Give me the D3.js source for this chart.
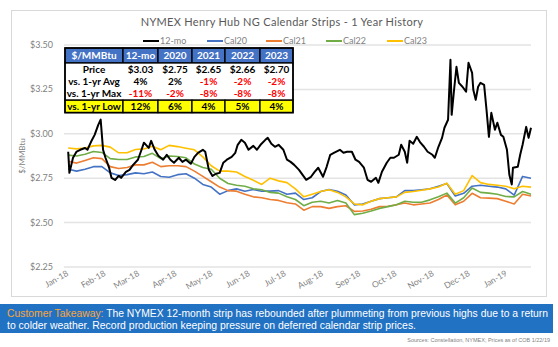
<!DOCTYPE html>
<html><head><meta charset="utf-8">
<script src="https://cdn.jsdelivr.net/npm/d3@7"></script>
<style>body{margin:0;background:#fff;} svg{display:block;}</style>
</head><body><svg id="c" width="558" height="347"></svg>
<script>
// ---------- DATA ----------
const weekDates = ["2018-01-02","2018-01-09","2018-01-16","2018-01-23","2018-01-30",
 "2018-02-06","2018-02-13","2018-02-20","2018-02-27","2018-03-06","2018-03-13","2018-03-20","2018-03-27",
 "2018-04-03","2018-04-10","2018-04-17","2018-04-24","2018-05-01","2018-05-08","2018-05-15","2018-05-22","2018-05-29",
 "2018-06-05","2018-06-12","2018-06-19","2018-06-26","2018-07-03","2018-07-10","2018-07-17","2018-07-24","2018-07-31",
 "2018-08-07","2018-08-14","2018-08-21","2018-08-28","2018-09-04","2018-09-11","2018-09-18","2018-09-25",
 "2018-10-02","2018-10-09","2018-10-16","2018-10-23","2018-10-30","2018-11-06","2018-11-13","2018-11-20","2018-11-27",
 "2018-12-04","2018-12-11","2018-12-18","2018-12-25","2019-01-01","2019-01-08","2019-01-15","2019-01-22"];
const cal20 = [2.80,2.79,2.80,2.815,2.815,2.78,2.765,2.77,2.78,2.775,2.785,2.76,2.755,2.77,2.775,2.75,2.715,2.70,2.66,2.68,2.69,2.677,
 2.686,2.677,2.677,2.68,2.66,2.666,2.63,2.64,2.675,2.686,2.677,2.655,2.60,2.605,2.62,2.635,2.64,2.645,2.68,2.68,2.685,2.69,
 2.705,2.72,2.65,2.665,2.705,2.71,2.705,2.70,2.69,2.655,2.76,2.75];
const cal21 = [2.845,2.835,2.85,2.865,2.86,2.815,2.805,2.81,2.825,2.825,2.84,2.815,2.82,2.82,2.815,2.79,2.76,2.73,2.70,2.68,2.677,2.66,
 2.645,2.64,2.63,2.625,2.612,2.605,2.57,2.59,2.59,2.58,2.59,2.595,2.563,2.565,2.575,2.59,2.592,2.60,2.61,2.60,2.605,2.61,
 2.63,2.655,2.60,2.62,2.665,2.64,2.638,2.635,2.62,2.605,2.66,2.65];
const cal22 = [2.88,2.875,2.885,2.90,2.895,2.86,2.855,2.855,2.87,2.872,2.89,2.86,2.875,2.872,2.865,2.83,2.81,2.80,2.75,2.72,2.71,2.705,
 2.69,2.685,2.67,2.666,2.645,2.63,2.595,2.615,2.62,2.61,2.625,2.61,2.545,2.553,2.565,2.58,2.59,2.60,2.62,2.615,2.615,2.628,
 2.645,2.666,2.61,2.64,2.695,2.67,2.666,2.66,2.647,2.645,2.675,2.66];
const cal23 = [2.92,2.915,2.92,2.932,2.935,2.925,2.893,2.893,2.912,2.915,2.93,2.91,2.935,2.928,2.919,2.91,2.87,2.82,2.79,2.79,2.785,2.76,
 2.738,2.715,2.75,2.735,2.725,2.69,2.645,2.66,2.675,2.685,2.67,2.645,2.605,2.60,2.62,2.635,2.64,2.645,2.67,2.675,2.682,2.69,
 2.70,2.722,2.66,2.68,2.765,2.725,2.715,2.71,2.705,2.69,2.705,2.70];

const moDates = ["2018-01-02","2018-01-03","2018-01-06","2018-01-09","2018-01-12","2018-01-16","2018-01-18","2018-01-21","2018-01-24",
 "2018-01-27","2018-01-29","2018-01-31","2018-02-02","2018-02-05","2018-02-07","2018-02-10","2018-02-13","2018-02-15","2018-02-19",
 "2018-02-22","2018-02-25","2018-03-01","2018-03-04","2018-03-06","2018-03-10","2018-03-12","2018-03-15","2018-03-18","2018-03-22",
 "2018-03-25","2018-03-28","2018-03-31","2018-04-04","2018-04-07","2018-04-10","2018-04-14","2018-04-17","2018-04-20","2018-04-24",
 "2018-04-26","2018-04-29","2018-05-02","2018-05-05","2018-05-08","2018-05-11","2018-05-14","2018-05-18","2018-05-21","2018-05-23",
 "2018-05-26","2018-05-29","2018-06-01","2018-06-05","2018-06-08","2018-06-11","2018-06-15","2018-06-17","2018-06-20","2018-06-23",
 "2018-06-26","2018-06-30","2018-07-03","2018-07-06","2018-07-09","2018-07-13","2018-07-16","2018-07-19","2018-07-23","2018-07-26",
 "2018-07-29","2018-08-02","2018-08-05","2018-08-08","2018-08-11","2018-08-16","2018-08-19","2018-08-22","2018-08-26","2018-08-29",
 "2018-09-01","2018-09-05","2018-09-08","2018-09-11","2018-09-15","2018-09-17","2018-09-20","2018-09-24","2018-09-27","2018-09-30",
 "2018-10-04","2018-10-06","2018-10-09","2018-10-11","2018-10-13","2018-10-16","2018-10-19","2018-10-22","2018-10-25","2018-10-28",
 "2018-11-01","2018-11-03","2018-11-06","2018-11-09","2018-11-11","2018-11-14","2018-11-16","2018-11-17","2018-11-19","2018-11-21",
 "2018-11-23","2018-11-26","2018-11-29","2018-12-01","2018-12-04","2018-12-05","2018-12-07","2018-12-09","2018-12-11","2018-12-14",
 "2018-12-16","2018-12-18","2018-12-20","2018-12-23","2018-12-25","2018-12-28","2018-12-30","2019-01-02","2019-01-04","2019-01-06",
 "2019-01-07","2019-01-11","2019-01-13","2019-01-15","2019-01-18","2019-01-20","2019-01-22"];
const mo12 = [2.899,2.78,2.865,2.90,2.91,2.92,2.91,2.955,2.994,
 3.05,3.08,2.91,2.865,2.81,2.752,2.74,2.763,2.752,2.786,
 2.797,2.825,2.854,2.91,2.95,2.921,2.96,2.91,2.876,2.854,
 2.882,2.854,2.837,2.865,2.842,2.854,2.831,2.87,2.893,2.91,
 2.899,2.797,2.763,2.775,2.78,2.837,2.854,2.87,2.893,2.938,
 2.966,2.95,2.91,2.932,2.91,2.938,2.966,2.977,2.944,2.927,
 2.938,2.91,2.854,2.842,2.825,2.797,2.769,2.741,2.758,2.786,
 2.809,2.758,2.814,2.882,2.893,2.91,2.893,2.899,2.899,2.854,
 2.842,2.809,2.741,2.73,2.752,2.724,2.786,2.837,2.865,2.865,
 2.882,2.938,2.899,2.837,2.961,2.944,2.983,2.95,2.927,2.899,
 2.882,2.865,2.927,2.977,3.034,3.079,3.417,3.107,3.248,3.377,
 3.287,3.265,3.237,3.40,3.343,3.248,3.191,3.265,3.287,3.276,
 3.135,2.983,3.118,3.023,3.062,2.994,2.983,2.91,2.769,2.715,
 2.809,2.814,2.882,2.938,3.039,2.977,3.034];

const seriesNames = ["12-mo","Cal20","Cal21","Cal22","Cal23"];
const seriesColors = ["#000000","#4472c4","#ed7d31","#70ad47","#ffc000"];
const yTicks = [2.25,2.50,2.75,3.00,3.25,3.50];
const xTickDates = ["2018-01-01","2018-02-01","2018-03-01","2018-04-01","2018-05-01","2018-06-01","2018-07-01",
 "2018-08-01","2018-09-01","2018-10-01","2018-11-01","2018-12-01","2019-01-01"];
const tableHead = ["$/MMBtu","12-mo","2020","2021","2022","2023"];
const tableRows = [
 ["Price","$3.03","$2.75","$2.65","$2.66","$2.70"],
 ["vs. 1-yr Avg","4%","2%","-1%","-2%","-2%"],
 ["vs. 1-yr Max","-11%","-2%","-8%","-8%","-8%"],
 ["vs. 1-yr Low","12%","6%","4%","5%","4%"]];
const title = "NYMEX Henry Hub NG Calendar Strips - 1 Year History";
const takeawayLabel = "Customer Takeaway:";
const takeaway1 = " The NYMEX 12-month strip has rebounded after plummeting from previous highs due to a return";
const takeaway2 = "to colder weather. Record production keeping pressure on deferred calendar strip prices.";
const sources = "Sources: Constellation, NYMEX; Prices as of COB 1/22/19";

// ---------- DRAW ----------
const parse = d3.timeParse("%Y-%m-%d");
const svg = d3.select("#c");
const F = "Lato, 'Open Sans', sans-serif";

svg.append("rect").attr("x",11.5).attr("y",10.5).attr("width",535).attr("height",286)
  .attr("fill","#fff").attr("stroke","#d9d9d9");

const x = d3.scaleTime().domain([parse("2018-01-01"), parse("2019-01-22")]).range([67,531]);
const y = d3.scaleLinear().domain([2.25,3.5]).range([267,45]);

// gridlines
svg.append("g").selectAll("line").data(yTicks).join("line")
  .attr("x1",64).attr("x2",531).attr("y1",d=>y(d)).attr("y2",d=>y(d))
  .attr("stroke","#e3e3e3").attr("stroke-width",1.5);
// y labels
svg.append("g").selectAll("text").data(yTicks).join("text")
  .attr("x",53).attr("y",d=>y(d)+3).attr("text-anchor","end")
  .attr("font-family",F).attr("font-size",9).attr("fill","#7f7f7f")
  .text(d=>d3.format("$.2f")(d));
// x labels
svg.append("g").selectAll("text").data(xTickDates).join("text")
  .attr("transform",d=>`translate(${x(parse(d))+2},${275}) rotate(-30)`)
  .attr("text-anchor","end").attr("font-family",F).attr("font-size",8.5).attr("fill","#7f7f7f")
  .text(d=>d3.timeFormat("%b-%y")(parse(d)));
// y title
svg.append("text").attr("transform","translate(25,156) rotate(-90)").attr("text-anchor","middle")
  .attr("font-family",F).attr("font-size",8).attr("fill","#7f7f7f").text("$/MMBtu");

// lines
const line = d3.line().x(d=>x(d[0])).y(d=>y(d[1]));
const wk = weekDates.map(parse);
[cal20,cal21,cal22,cal23].forEach((s,i)=>{
  svg.append("path").datum(wk.map((d,j)=>[d,s[j]])).attr("d",line)
    .attr("fill","none").attr("stroke",seriesColors[i+1]).attr("stroke-width",1.6).attr("stroke-linejoin","round");
});
svg.append("path").datum(moDates.map((d,j)=>[parse(d),mo12[j]])).attr("d",line)
  .attr("fill","none").attr("stroke","#000").attr("stroke-width",2).attr("stroke-linejoin","round");

// title
svg.append("text").attr("x",282).attr("y",26).attr("text-anchor","middle")
  .attr("font-family",F).attr("font-size",11).attr("fill","#595959").attr("letter-spacing",0.3).text(title);
// legend
const legX = [143,207,266,326,387];
const lg = svg.append("g");
seriesNames.forEach((n,i)=>{
  lg.append("line").attr("x1",legX[i]).attr("x2",legX[i]+16).attr("y1",41).attr("y2",41)
    .attr("stroke",seriesColors[i]).attr("stroke-width",2);
  lg.append("text").attr("x",legX[i]+17).attr("y",44).attr("font-family",F).attr("font-size",9)
    .attr("fill","#7f7f7f").text(n);
});

// table
const cx = [65,123,158,192,225,260,293];
const ry = [48,63,75.4,87.8,100.2,112.6];
const tb = svg.append("g");
tableHead.forEach((h,i)=>{
  tb.append("rect").attr("x",cx[i]).attr("y",ry[0]).attr("width",cx[i+1]-cx[i]).attr("height",ry[1]-ry[0])
    .attr("fill","#4472c4").attr("stroke","#000").attr("stroke-width",1.3);
  tb.append("text").attr("x",(cx[i]+cx[i+1])/2).attr("y",ry[0]+11).attr("text-anchor","middle")
    .attr("font-family",F).attr("font-weight","bold").attr("font-size",10).attr("fill","#fff").text(h);
});
tb.append("rect").attr("x",cx[0]).attr("y",ry[1]).attr("width",cx[6]-cx[0]).attr("height",ry[4]-ry[1])
  .attr("fill","#fff").attr("stroke","#000").attr("stroke-width",1.3);
tableRows[3].forEach((v,i)=>{
  tb.append("rect").attr("x",cx[i]).attr("y",ry[4]).attr("width",cx[i+1]-cx[i]).attr("height",ry[5]-ry[4])
    .attr("fill","#ffff00").attr("stroke","#000").attr("stroke-width",1.3);
});
tableRows.forEach((row,r)=>{
  row.forEach((v,i)=>{
    const red = i>0 && v.startsWith("-");
    tb.append("text").attr("x",(cx[i]+cx[i+1])/2).attr("y",ry[r+1]+9.5).attr("text-anchor","middle")
      .attr("font-family",F).attr("font-weight","bold").attr("font-size",10)
      .attr("fill",red?"#ff0000":"#000").text(v);
  });
});
tb.append("rect").attr("x",cx[0]).attr("y",ry[0]).attr("width",cx[6]-cx[0]).attr("height",ry[5]-ry[0])
  .attr("fill","none").attr("stroke","#000").attr("stroke-width",1.6);

// takeaway box
svg.append("rect").attr("x",0).attr("y",304).attr("width",553).attr("height",29).attr("fill","#2272c3");
const t1 = svg.append("text").attr("x",7).attr("y",316.5).attr("font-family","'Liberation Sans', Arial, sans-serif")
  .attr("font-size",10.5).attr("textLength",541).attr("lengthAdjust","spacingAndGlyphs");
t1.append("tspan").attr("fill","#f9a63c").text(takeawayLabel);
t1.append("tspan").attr("fill","#fff").text(takeaway1);
svg.append("text").attr("x",7).attr("y",329).attr("font-family","'Liberation Sans', Arial, sans-serif")
  .attr("font-size",10.5).attr("fill","#fff").attr("textLength",409).attr("lengthAdjust","spacingAndGlyphs").text(takeaway2);
svg.append("text").attr("x",550).attr("y",342).attr("text-anchor","end")
  .attr("font-family","'Liberation Sans', Arial, sans-serif").attr("font-size",5.5).attr("fill","#7f7f7f").text(sources);
</script></body></html>
